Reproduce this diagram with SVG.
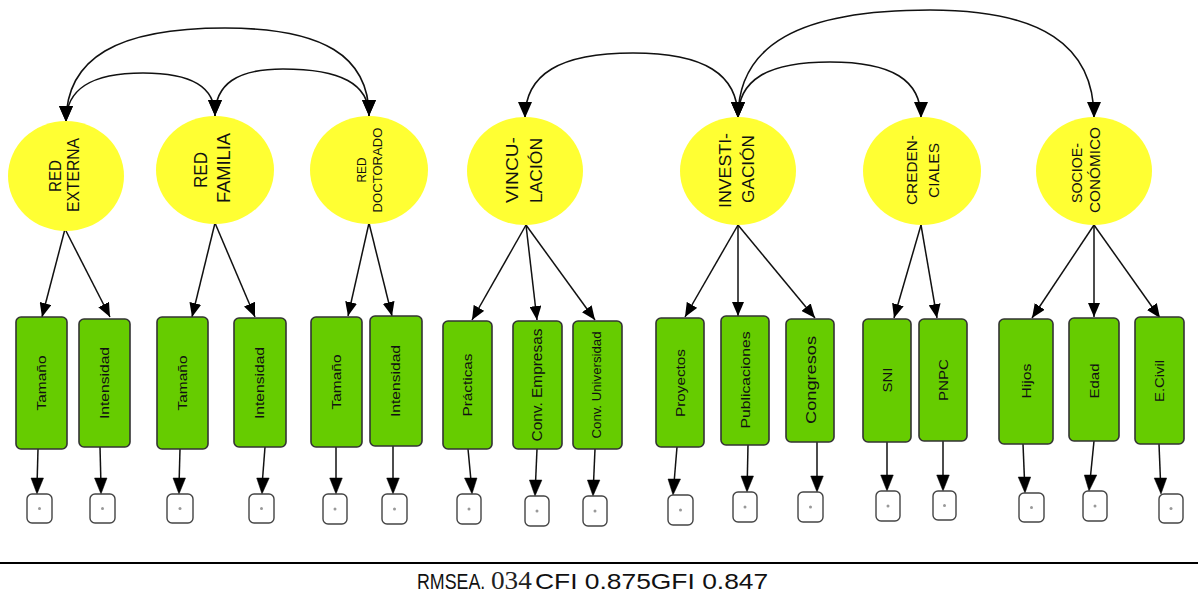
<svg xmlns="http://www.w3.org/2000/svg" width="1198" height="610" viewBox="0 0 1198 610">
  <style>
    .lat { fill: #ffff33; stroke: none; }
    .obs { fill: #66cc00; stroke: #333333; stroke-width: 1.6; }
    .err { fill: #ffffff; stroke: #444444; stroke-width: 1.4; }
    .dot { fill: #999999; }
    .lbl { font-family: "Liberation Sans", Arial, sans-serif; fill: #111111; text-anchor: middle; dominant-baseline: central; }
    .cov { fill: none; stroke: #111111; stroke-width: 1.6; marker-start: url(#headL); marker-end: url(#headL); }
    .load { fill: none; stroke: #111111; stroke-width: 1.5; marker-end: url(#head); }
    .eline { fill: none; stroke: #111111; stroke-width: 1.5; }
    .ehead { fill: #000000; stroke: #000000; stroke-width: 0.5; }
    .stat { font-family: "Liberation Sans", Arial, sans-serif; font-size: 22px; fill: #111111; }
  </style>
  <defs>
    <marker id="head" viewBox="0 0 14 12" refX="14" refY="6" markerWidth="14" markerHeight="12" markerUnits="userSpaceOnUse" orient="auto-start-reverse">
      <path d="M0,0 L14,6 L0,12 z" fill="#000000"/>
    </marker>
    <marker id="headL" viewBox="0 0 16 14" refX="16" refY="7" markerWidth="16" markerHeight="14" markerUnits="userSpaceOnUse" orient="auto-start-reverse">
      <path d="M0,0 L16,7 L0,14 z" fill="#000000"/>
    </marker>
  </defs>

  <!-- connectors: covariances, loadings, error terms -->
  <g id="connectors">
    <path class="cov" d="M66,122 C66,58 117,28 225,28 C323,28 369,56 369,116"/>
    <path class="cov" d="M66,122 C66,89 91,73 143,73 C192,73 215,87 215,116"/>
    <path class="cov" d="M215,116 C215,84 237,69 283,69 C341,69 369,84 369,116"/>
    <path class="cov" d="M525,118 C525,74 560,53 633,53 C704,53 738,74 738,118"/>
    <path class="cov" d="M738,118 C738,80 767,62 830,62 C892,62 921,80 921,118"/>
    <path class="cov" d="M738,118 C738,45 799,10 930,10 C1041,10 1094,45 1094,118"/>

    <line class="load" x1="65" y1="229" x2="42" y2="317"/>
    <line class="load" x1="65" y1="229" x2="110" y2="317"/>
    <line class="load" x1="215" y1="223" x2="192" y2="317"/>
    <line class="load" x1="215" y1="223" x2="255" y2="317"/>
    <line class="load" x1="369" y1="223" x2="348" y2="316"/>
    <line class="load" x1="369" y1="223" x2="392" y2="316"/>
    <line class="load" x1="526" y1="225" x2="472" y2="320"/>
    <line class="load" x1="526" y1="225" x2="537" y2="320"/>
    <line class="load" x1="526" y1="225" x2="595" y2="320"/>
    <line class="load" x1="738" y1="225" x2="685" y2="317"/>
    <line class="load" x1="738" y1="225" x2="738" y2="316"/>
    <line class="load" x1="738" y1="225" x2="815" y2="318"/>
    <line class="load" x1="921" y1="225" x2="894" y2="318"/>
    <line class="load" x1="921" y1="225" x2="937" y2="318"/>
    <line class="load" x1="1094" y1="225" x2="1032" y2="318"/>
    <line class="load" x1="1094" y1="225" x2="1094" y2="317"/>
    <line class="load" x1="1094" y1="225" x2="1160" y2="318"/>

    <line class="eline" x1="38" y1="449" x2="37" y2="486"/><polygon class="ehead" points="37,494 31,478 43.5,478"/>
    <line class="eline" x1="100" y1="447" x2="101" y2="486"/><polygon class="ehead" points="101,494 94.5,478 107,478"/>
    <line class="eline" x1="180" y1="449" x2="179" y2="486"/><polygon class="ehead" points="179,494 173,478 185.5,478"/>
    <line class="eline" x1="265" y1="447" x2="262" y2="486"/><polygon class="ehead" points="262,494 256.7,478 269.2,478"/>
    <line class="eline" x1="336" y1="447" x2="336" y2="486"/><polygon class="ehead" points="336,494 329.7,478 342.3,478"/>
    <line class="eline" x1="393" y1="446" x2="393" y2="486"/><polygon class="ehead" points="393,494 386.7,478 399.3,478"/>
    <line class="eline" x1="468" y1="449" x2="471.5" y2="486"/><polygon class="ehead" points="472,494 464.5,478 477,478"/>
    <line class="eline" x1="537" y1="449" x2="535.3" y2="488"/><polygon class="ehead" points="535,496 529.4,480 541.9,480"/>
    <line class="eline" x1="595" y1="449" x2="593.3" y2="488"/><polygon class="ehead" points="593,496 587.4,480 599.9,480"/>
    <line class="eline" x1="677" y1="447" x2="673.7" y2="487"/><polygon class="ehead" points="673,495 668,479 680.5,479"/>
    <line class="eline" x1="748" y1="445" x2="747.2" y2="484"/><polygon class="ehead" points="747,492 741,476 753.5,476"/>
    <line class="eline" x1="817" y1="442" x2="817" y2="484"/><polygon class="ehead" points="817,492 810.7,476 823.3,476"/>
    <line class="eline" x1="887" y1="442" x2="887" y2="483"/><polygon class="ehead" points="887,491 880.7,475 893.3,475"/>
    <line class="eline" x1="943" y1="441" x2="943" y2="483"/><polygon class="ehead" points="943,491 936.7,475 949.3,475"/>
    <line class="eline" x1="1023" y1="444" x2="1024.7" y2="485"/><polygon class="ehead" points="1025,493 1018.2,477 1030.7,477"/>
    <line class="eline" x1="1094" y1="441" x2="1089.8" y2="483"/><polygon class="ehead" points="1089,491 1084.3,475 1096.8,475"/>
    <line class="eline" x1="1159" y1="444" x2="1160.7" y2="486"/><polygon class="ehead" points="1161,494 1154.2,478 1166.7,478"/>
  </g>

  <!-- latent factors -->
  <g id="red-externa">
    <ellipse class="lat" cx="66" cy="176" rx="58" ry="55"/>
    <text class="lbl" font-size="17" textLength="32" lengthAdjust="spacingAndGlyphs" transform="translate(55,176) rotate(-90)">RED</text>
    <text class="lbl" font-size="17" textLength="74" lengthAdjust="spacingAndGlyphs" transform="translate(73.5,175) rotate(-90)">EXTERNA</text>
  </g>
  <g id="red-familia">
    <ellipse class="lat" cx="215" cy="170" rx="59" ry="54"/>
    <text class="lbl" font-size="18" textLength="36" lengthAdjust="spacingAndGlyphs" transform="translate(201,170) rotate(-90)">RED</text>
    <text class="lbl" font-size="18" textLength="70" lengthAdjust="spacingAndGlyphs" transform="translate(224,168) rotate(-90)">FAMILIA</text>
  </g>
  <g id="red-doctorado">
    <ellipse class="lat" cx="369" cy="170" rx="59" ry="54"/>
    <text class="lbl" font-size="13" textLength="25" lengthAdjust="spacingAndGlyphs" transform="translate(361,170) rotate(-90)">RED</text>
    <text class="lbl" font-size="13" textLength="85" lengthAdjust="spacingAndGlyphs" transform="translate(377,170) rotate(-90)">DOCTORADO</text>
  </g>
  <g id="vinculacion">
    <ellipse class="lat" cx="525" cy="171" rx="58" ry="54"/>
    <text class="lbl" font-size="16" textLength="66" lengthAdjust="spacingAndGlyphs" transform="translate(512,170) rotate(-90)">VINCU-</text>
    <text class="lbl" font-size="16" textLength="65" lengthAdjust="spacingAndGlyphs" transform="translate(536,170.5) rotate(-90)">LACIÓN</text>
  </g>
  <g id="investigacion">
    <ellipse class="lat" cx="738" cy="171" rx="58" ry="54"/>
    <text class="lbl" font-size="16" textLength="75" lengthAdjust="spacingAndGlyphs" transform="translate(725,170.5) rotate(-90)">INVESTI-</text>
    <text class="lbl" font-size="16" textLength="68" lengthAdjust="spacingAndGlyphs" transform="translate(748,169) rotate(-90)">GACIÓN</text>
  </g>
  <g id="credenciales">
    <ellipse class="lat" cx="922" cy="171" rx="59" ry="54"/>
    <text class="lbl" font-size="15" textLength="70" lengthAdjust="spacingAndGlyphs" transform="translate(911,170) rotate(-90)">CREDEN-</text>
    <text class="lbl" font-size="15" textLength="55" lengthAdjust="spacingAndGlyphs" transform="translate(933,170.5) rotate(-90)">CIALES</text>
  </g>
  <g id="socioeconomico">
    <ellipse class="lat" cx="1094" cy="171" rx="58" ry="54"/>
    <text class="lbl" font-size="15" textLength="60" lengthAdjust="spacingAndGlyphs" transform="translate(1076,173) rotate(-90)">SOCIOE-</text>
    <text class="lbl" font-size="15" textLength="86" lengthAdjust="spacingAndGlyphs" transform="translate(1094,170) rotate(-90)">CONÓMICO</text>
  </g>

  <!-- observed indicators -->
  <g id="ext-tamano"><rect class="obs" x="16" y="317" width="51" height="132" rx="5"/><text class="lbl" font-size="13" textLength="55" lengthAdjust="spacingAndGlyphs" transform="translate(41,383) rotate(-90)">Tamaño</text></g>
  <g id="ext-intensidad"><rect class="obs" x="79" y="319" width="51" height="128" rx="5"/><text class="lbl" font-size="13" textLength="72" lengthAdjust="spacingAndGlyphs" transform="translate(104,383) rotate(-90)">Intensidad</text></g>
  <g id="fam-tamano"><rect class="obs" x="157" y="317" width="51" height="132" rx="5"/><text class="lbl" font-size="13" textLength="55" lengthAdjust="spacingAndGlyphs" transform="translate(182,383) rotate(-90)">Tamaño</text></g>
  <g id="fam-intensidad"><rect class="obs" x="234" y="318" width="52" height="129" rx="5"/><text class="lbl" font-size="13" textLength="72" lengthAdjust="spacingAndGlyphs" transform="translate(259,383) rotate(-90)">Intensidad</text></g>
  <g id="doc-tamano"><rect class="obs" x="311" y="317" width="51" height="130" rx="5"/><text class="lbl" font-size="13" textLength="55" lengthAdjust="spacingAndGlyphs" transform="translate(336,382) rotate(-90)">Tamaño</text></g>
  <g id="doc-intensidad"><rect class="obs" x="370" y="316" width="52" height="130" rx="5"/><text class="lbl" font-size="13" textLength="72" lengthAdjust="spacingAndGlyphs" transform="translate(395,381) rotate(-90)">Intensidad</text></g>
  <g id="practicas"><rect class="obs" x="443" y="321" width="49" height="128" rx="5"/><text class="lbl" font-size="13" textLength="63" lengthAdjust="spacingAndGlyphs" transform="translate(467,385) rotate(-90)">Prácticas</text></g>
  <g id="conv-empresas"><rect class="obs" x="513" y="321" width="49" height="128" rx="5"/><text class="lbl" font-size="14" textLength="113" lengthAdjust="spacingAndGlyphs" transform="translate(537,385) rotate(-90)">Conv. Empresas</text></g>
  <g id="conv-universidad"><rect class="obs" x="573" y="321" width="49" height="128" rx="5"/><text class="lbl" font-size="12" textLength="107" lengthAdjust="spacingAndGlyphs" transform="translate(597,385) rotate(-90)">Conv. Universidad</text></g>
  <g id="proyectos"><rect class="obs" x="656" y="318" width="48" height="129" rx="5"/><text class="lbl" font-size="13" textLength="68" lengthAdjust="spacingAndGlyphs" transform="translate(680,383) rotate(-90)">Proyectos</text></g>
  <g id="publicaciones"><rect class="obs" x="721" y="316" width="48" height="129" rx="5"/><text class="lbl" font-size="13" textLength="97" lengthAdjust="spacingAndGlyphs" transform="translate(745,380) rotate(-90)">Publicaciones</text></g>
  <g id="congresos"><rect class="obs" x="786" y="319" width="48" height="123" rx="5"/><text class="lbl" font-size="15" textLength="88" lengthAdjust="spacingAndGlyphs" transform="translate(810,380) rotate(-90)">Congresos</text></g>
  <g id="sni"><rect class="obs" x="863" y="319" width="48" height="123" rx="5"/><text class="lbl" font-size="13" textLength="25" lengthAdjust="spacingAndGlyphs" transform="translate(887,380) rotate(-90)">SNI</text></g>
  <g id="pnpc"><rect class="obs" x="919" y="319" width="48" height="122" rx="5"/><text class="lbl" font-size="13" textLength="42" lengthAdjust="spacingAndGlyphs" transform="translate(943,380) rotate(-90)">PNPC</text></g>
  <g id="hijos"><rect class="obs" x="999" y="319" width="54" height="125" rx="5"/><text class="lbl" font-size="13" textLength="35" lengthAdjust="spacingAndGlyphs" transform="translate(1026,381) rotate(-90)">Hijos</text></g>
  <g id="edad"><rect class="obs" x="1069" y="318" width="50" height="123" rx="5"/><text class="lbl" font-size="13" textLength="35" lengthAdjust="spacingAndGlyphs" transform="translate(1094,381) rotate(-90)">Edad</text></g>
  <g id="ecivil"><rect class="obs" x="1135" y="317" width="49" height="127" rx="5"/><text class="lbl" font-size="13" textLength="42" lengthAdjust="spacingAndGlyphs" transform="translate(1159,381) rotate(-90)">E.Civil</text></g>

  <!-- error terms -->
  <g id="errors">
    <g id="e1"><rect class="err" x="27" y="494" width="25" height="29" rx="5"/><circle class="dot" cx="39.5" cy="508.5" r="1.5"/></g>
    <g id="e2"><rect class="err" x="90" y="494" width="25" height="29" rx="5"/><circle class="dot" cx="102.5" cy="508.5" r="1.5"/></g>
    <g id="e3"><rect class="err" x="167" y="494" width="26" height="29" rx="5"/><circle class="dot" cx="180" cy="508.5" r="1.5"/></g>
    <g id="e4"><rect class="err" x="249" y="494" width="25" height="29" rx="5"/><circle class="dot" cx="261.5" cy="508.5" r="1.5"/></g>
    <g id="e5"><rect class="err" x="323" y="494" width="24" height="30" rx="5"/><circle class="dot" cx="335" cy="509" r="1.5"/></g>
    <g id="e6"><rect class="err" x="382" y="494" width="25" height="30" rx="5"/><circle class="dot" cx="394.5" cy="509" r="1.5"/></g>
    <g id="e7"><rect class="err" x="457" y="494" width="24" height="30" rx="5"/><circle class="dot" cx="469" cy="509" r="1.5"/></g>
    <g id="e8"><rect class="err" x="525" y="496" width="24" height="30" rx="5"/><circle class="dot" cx="537" cy="511" r="1.5"/></g>
    <g id="e9"><rect class="err" x="583" y="496" width="24" height="30" rx="5"/><circle class="dot" cx="595" cy="511" r="1.5"/></g>
    <g id="e10"><rect class="err" x="668" y="495" width="25" height="30" rx="5"/><circle class="dot" cx="680.5" cy="510" r="1.5"/></g>
    <g id="e11"><rect class="err" x="733" y="492" width="24" height="30" rx="5"/><circle class="dot" cx="745" cy="507" r="1.5"/></g>
    <g id="e12"><rect class="err" x="798" y="492" width="25" height="30" rx="5"/><circle class="dot" cx="810.5" cy="507" r="1.5"/></g>
    <g id="e13"><rect class="err" x="876" y="491" width="24" height="30" rx="5"/><circle class="dot" cx="888" cy="506" r="1.5"/></g>
    <g id="e14"><rect class="err" x="933" y="491" width="23" height="29" rx="5"/><circle class="dot" cx="944.5" cy="505.5" r="1.5"/></g>
    <g id="e15"><rect class="err" x="1019" y="493" width="25" height="29" rx="5"/><circle class="dot" cx="1031.5" cy="507.5" r="1.5"/></g>
    <g id="e16"><rect class="err" x="1083" y="491" width="24" height="30" rx="5"/><circle class="dot" cx="1095" cy="506" r="1.5"/></g>
    <g id="e17"><rect class="err" x="1159" y="494" width="24" height="29" rx="5"/><circle class="dot" cx="1171" cy="508.5" r="1.5"/></g>
  </g>

  <!-- fit indices footer -->
  <line x1="0" y1="563" x2="1198" y2="563" stroke="#000000" stroke-width="2"/>
  <text class="stat" transform="translate(417,589) scale(0.81,1)">RMSEA.</text>
  <text transform="translate(491,589) scale(1.09,1)" font-family="Liberation Serif, serif" font-size="25" fill="#222222">034</text>
  <text class="stat" transform="translate(535,589) scale(1.2,1)">CFI 0.875GFI 0.847</text>
</svg>
